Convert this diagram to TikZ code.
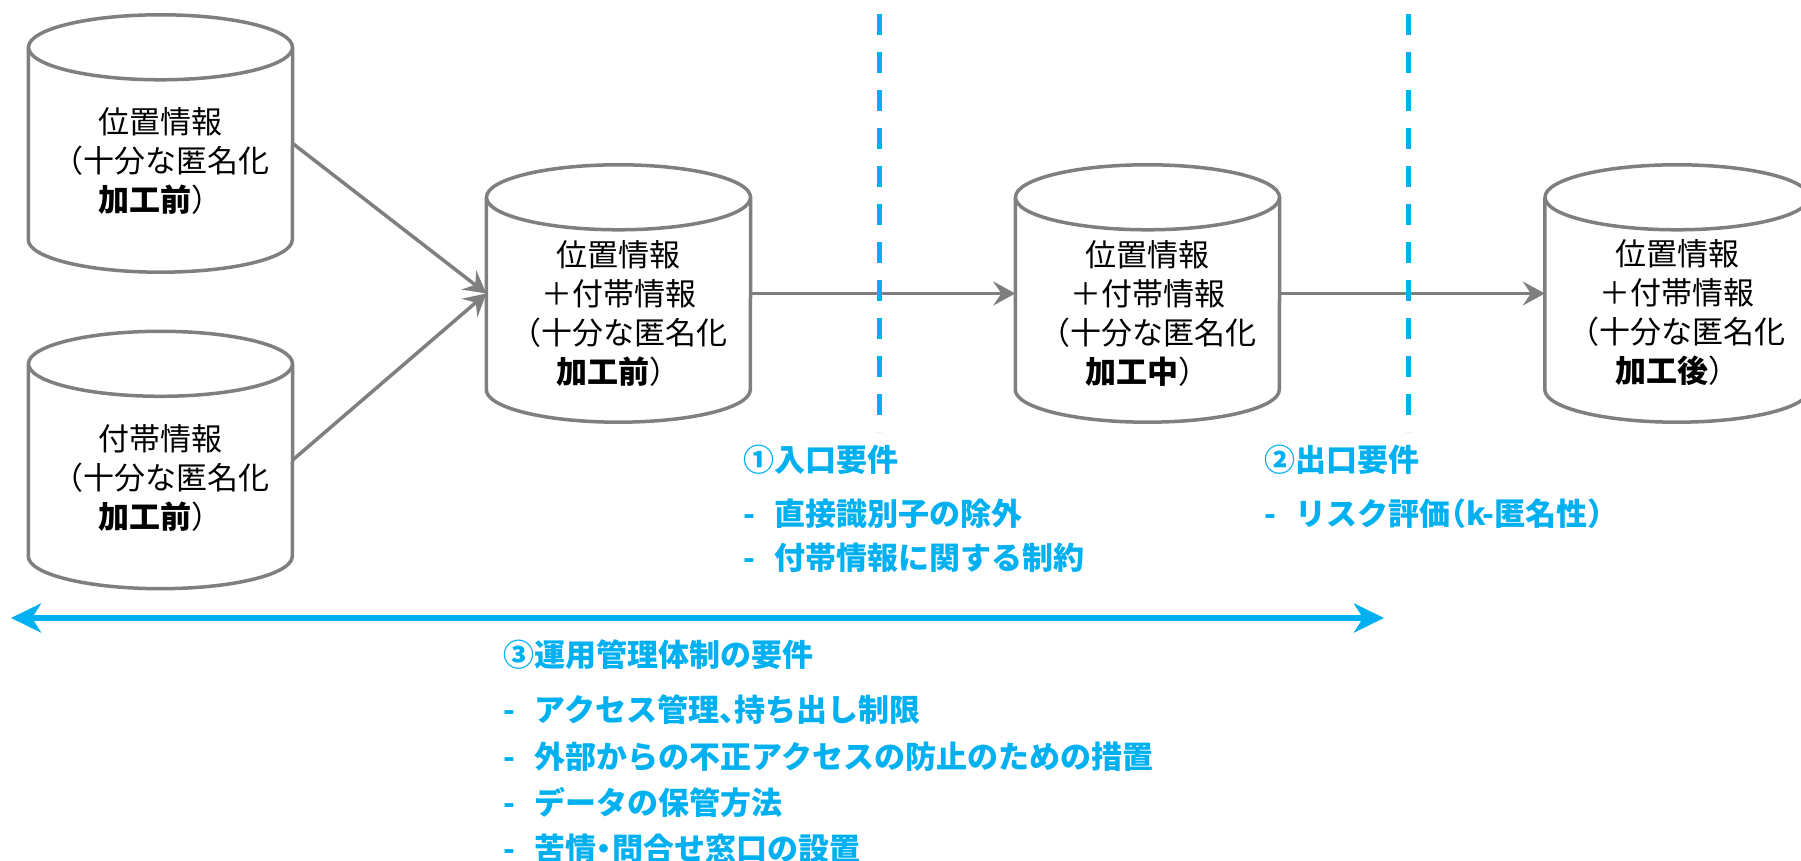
\documentclass[tikz,border=0pt]{standalone}
\usepackage{fontspec}
\newfontfamily\jpfont{Noto Sans CJK JP}
\newfontfamily\jphalf{Noto Sans CJK JP}[RawFeature=+halt]
\usetikzlibrary{arrows.meta}
\definecolor{linegray}{RGB}{127,127,127}
\definecolor{reqblue}{RGB}{0,176,240}
\tikzset{
    db/.style={rectangle, minimum width=264pt, minimum height=257pt, inner sep=0pt},
    dbline/.style={draw=linegray, line width=3.5pt, fill=white},
    dbtext/.style={align=center, font=\jpfont\fontsize{31}{39}\selectfont},
    flow/.style={draw=linegray, line width=3.5pt, -{Stealth[length=22pt,width=24pt,inset=8pt]}},
    gate/.style={draw=reqblue, line width=5pt, dash pattern=on 21pt off 17pt},
    span/.style={draw=reqblue, line width=6pt,
            {Stealth[length=30pt,width=29pt,inset=9pt]}-{Stealth[length=30pt,width=29pt,inset=9pt]}},
    reqtitle/.style={anchor=west, text=reqblue, font=\jpfont\bfseries\fontsize{31}{39}\selectfont},
    reqitem/.style={anchor=west, text=reqblue, font=\jpfont\bfseries\fontsize{31}{39}\selectfont},
}
\newcommand{\reqdash}{\makebox[1em][l]{-}}
\newcommand{\narrow}[1]{{\jphalf\bfseries #1}}
% cylinder round a db node
\newcommand{\drawdb}[1]{%
    \draw[dbline] ([yshift=-32.5pt]#1.north west) -- ([yshift=32.5pt]#1.south west)
        arc[start angle=180, end angle=360, x radius=132pt, y radius=32.5pt]
        -- ([yshift=-32.5pt]#1.north east);
    \draw[dbline] ([yshift=-32.5pt]#1.north) ellipse[x radius=132pt, y radius=32.5pt];
}

\begin{document}
\begin{tikzpicture}[x=1pt, y=1pt]
        \useasboundingbox (0,0) rectangle (1801,861);
        %draw databases
        \node[db] (loc) at (160.5, 717.5) {};
        \node[db] (attr) at (160.5, 401) {};
        \node[db] (merged) at (618.5, 567.5) {};
        \node[db] (during) at (1147.5, 567.5) {};
        \node[db] (after) at (1677, 567.5) {};
        \drawdb{loc}
        \drawdb{attr}
        \drawdb{merged}
        \drawdb{during}
        \drawdb{after}
        %label databases
        \node[dbtext] (loctext) at (160.5, 700) {位置情報\\（十分な匿名化\\\textbf{加工前}）};
        \node[dbtext] (attrtext) at (160.5, 383) {付帯情報\\（十分な匿名化\\\textbf{加工前}）};
        \node[dbtext] (mergedtext) at (618.5, 548) {位置情報\\＋付帯情報\\（十分な匿名化\\\textbf{加工前}）};
        \node[dbtext] (duringtext) at (1147.5, 548) {位置情報\\＋付帯情報\\（十分な匿名化\\\textbf{加工中}）};
        \node[dbtext] (aftertext) at (1677, 548) {位置情報\\＋付帯情報\\（十分な匿名化\\\textbf{加工後}）};
        %draw flow arrows
        \draw[flow] (loc.east) -- (merged.west);
        \draw[flow] (attr.east) -- (merged.west);
        \draw[flow] (merged.east) -- (during.west);
        \draw[flow] (during.east) -- (after.west);
        %draw dashed gates
        \draw[gate] (879, 847) -- (879, 429);
        \draw[gate] (1408, 847) -- (1408, 429);
        %draw span arrow
        \coordinate (spanleft) at (11, 243);
        \coordinate (spanright) at (1384, 243);
        \draw[span] (spanleft) -- (spanright);
        %label requirements
        \node[reqtitle] (entry) at (740, 401) {①入口要件};
        \node[reqitem] (entryone) at (740, 347) {\reqdash 直接識別子の除外};
        \node[reqitem] (entrytwo) at (740, 303) {\reqdash 付帯情報に関する制約};
        \node[reqtitle] (exit) at (1261, 401) {②出口要件};
        \node[reqitem] (exitone) at (1261, 347) {\reqdash リスク評価\narrow{（}k-匿名性\narrow{）}};
        \node[reqtitle] (ops) at (500, 206) {③運用管理体制の要件};
        \node[reqitem] (opsone) at (500, 151) {\reqdash アクセス管理\narrow{、}持ち出し制限};
        \node[reqitem] (opstwo) at (500, 104) {\reqdash 外部からの不正アクセスの防止のための措置};
        \node[reqitem] (opsthree) at (500, 58) {\reqdash データの保管方法};
        \node[reqitem] (opsfour) at (500, 12) {\reqdash 苦情\narrow{・}問合せ窓口の設置};
    \end{tikzpicture}
\end{document}
